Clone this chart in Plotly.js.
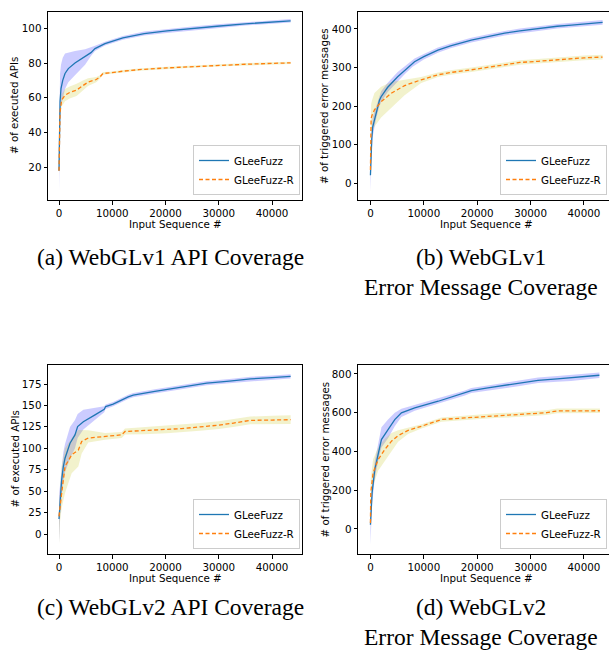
<!DOCTYPE html>
<html><head><meta charset="utf-8">
<script src="https://cdn.plot.ly/plotly-3.0.1.min.js"></script>
<style>html,body{margin:0;padding:0;background:#fff}#chart{width:609px;height:651px}</style>
</head><body><div id="chart"></div>
<script>
const seriesNames = ['GLeeFuzz', 'GLeeFuzz-R'];
const captions = ['(a) WebGLv1 API Coverage', '(b) WebGLv1', 'Error Message Coverage', '(c) WebGLv2 API Coverage', '(d) WebGLv2', 'Error Message Coverage'];
const xTitle = 'Input Sequence #';
const yTitles = ['# of executed APIs', '# of triggered error messages', '# of executed APIs', '# of triggered error messages'];

// (a) WebGLv1 API coverage
const aX_G = [0, 100, 200, 375, 700, 1130, 1750, 3000, 4900, 6000, 6760, 8640, 12000, 16000, 20280, 25000, 29670, 35000, 40000, 43500];
const aY_G = [18, 45, 58, 65.3, 70, 74, 76.8, 80, 83.5, 86, 88.3, 91.2, 94.5, 97, 98.5, 100, 101.2, 102.6, 103.7, 104.3];
const aHi_G = [30, 62, 74, 79, 83, 85.5, 86, 87, 88, 89, 90, 92.3, 95.6, 98.1, 99.7, 101.1, 102.3, 103.6, 104.7, 105.3];
const aLo_G = [6, 30, 46, 55, 60, 65, 69, 73, 79, 84, 87, 90.1, 93.4, 95.9, 97.3, 98.9, 100.1, 101.6, 102.7, 103.3];
const aX_R = [0, 100, 200, 500, 1130, 2000, 3300, 4500, 5450, 7000, 7700, 8260, 9580, 12000, 15000, 20280, 25000, 29670, 35000, 40000, 43500];
const aY_R = [18, 42, 52, 58.6, 61.5, 63, 64.4, 67, 69, 70.5, 72, 74, 74.3, 75.3, 76.2, 77.2, 78, 78.7, 79.3, 79.8, 80.1];
const aHi_R = [22, 48, 56, 62, 65, 66.5, 68, 70, 71.2, 72, 73, 74.8, 75, 76, 76.9, 77.9, 78.7, 79.4, 80, 80.5, 80.8];
const aLo_R = [14, 36, 48, 55, 58, 59.5, 61, 64, 66.8, 69, 71, 73.2, 73.6, 74.6, 75.5, 76.5, 77.3, 78, 78.6, 79.1, 79.4];

// (b) WebGLv1 error message coverage
const bX_G = [0, 100, 250, 430, 750, 1070, 1690, 2000, 3200, 5100, 6500, 7900, 8260, 10000, 12640, 15000, 18900, 22000, 25160, 28000, 31420, 35000, 37700, 40000, 43500];
const bY_G = [20, 70, 115, 146, 165, 185, 215, 224, 248, 276, 294, 311, 315, 328, 345, 356, 371, 380, 389, 395, 401, 407, 410, 413, 417];
const bHi_G = [62, 110, 145, 171, 185, 203, 230, 238, 260, 288, 304, 320, 323, 335, 352, 362, 377, 386, 395, 401, 407, 413, 416, 419, 423];
const bLo_G = [-22, 30, 85, 121, 145, 167, 200, 210, 236, 264, 284, 302, 307, 321, 338, 350, 365, 374, 383, 389, 395, 401, 404, 407, 411];
const bX_R = [0, 50, 130, 300, 750, 2000, 3880, 6400, 9500, 12640, 15000, 18900, 22000, 25160, 28000, 31420, 35000, 37700, 40000, 43500];
const bY_R = [34, 120, 168, 176, 190, 211, 233, 253, 268, 281, 287, 294, 300, 307, 313, 316, 320, 323, 325, 327];
const bHi_R = [50, 160, 205, 215, 234, 250, 262, 268, 275, 287, 293, 300, 306, 313, 319, 322, 326, 329, 331, 333];
const bLo_R = [18, 80, 130, 138, 146, 170, 195, 228, 260, 275, 281, 288, 294, 301, 307, 310, 314, 317, 319, 321];

// (c) WebGLv2 API coverage
const cX_G = [0, 200, 500, 800, 1130, 2070, 3000, 3500, 4570, 6760, 8500, 8760, 10170, 13000, 13940, 18000, 20220, 24000, 27750, 32000, 36000, 40000, 43500];
const cY_G = [17.5, 40, 63, 78, 88.5, 106, 115.7, 125.4, 131, 139, 145.6, 148.7, 151.5, 160, 162, 166.5, 168.5, 172.5, 176, 178.5, 181, 182.5, 184];
const cHi_G = [45, 60, 80, 95, 105, 125, 133, 140, 145, 147, 149, 151, 154, 162.5, 164.5, 169, 171, 175, 178.5, 181, 183.5, 185, 186.5];
const cLo_G = [-10.5, 20, 45, 60, 72, 88, 100, 112, 122, 133, 142, 146, 149, 157.5, 159.5, 164, 166, 170, 173.5, 176, 178.5, 180, 181.5];
const cX_R = [0, 200, 500, 1130, 2380, 3630, 4260, 5500, 8640, 11780, 12400, 16000, 20220, 23000, 26500, 30000, 32770, 35900, 40000, 43500];
const cY_R = [20.6, 35, 47.8, 78.8, 92.4, 98, 108, 112, 113.8, 115.7, 119.6, 120.5, 121.8, 123, 125, 127, 129.5, 132.6, 133, 133.4];
const cHi_R = [35, 60, 80, 100, 112, 121.5, 121.5, 121, 118, 119, 123, 124.5, 126, 127.5, 129.5, 131.5, 134, 137, 138, 138.5];
const cLo_R = [-12, 15, 30, 48, 71, 78.8, 94, 106.8, 110, 112, 116, 116.5, 117.5, 118.5, 120.5, 122.5, 125, 128, 128, 128.3];

// (d) WebGLv2 error message coverage
const dX_G = [0, 100, 310, 810, 1440, 2060, 3300, 4560, 5800, 8300, 12700, 17700, 18900, 22000, 25150, 28000, 31400, 35000, 37600, 40000, 42900];
const dY_G = [22, 100, 186, 306, 392, 461, 513, 564, 599, 625, 659, 702, 714, 728, 740, 752, 767, 774, 779, 784, 793];
const dHi_G = [120, 170, 240, 350, 440, 525, 565, 600, 620, 640, 672, 715, 727, 741, 754, 766, 781, 789, 794, 799, 807];
const dLo_G = [-81, 30, 130, 260, 350, 420, 468, 530, 578, 610, 646, 689, 701, 715, 726, 738, 753, 759, 764, 769, 779];
const dX_R = [0, 60, 500, 1440, 2690, 3940, 5190, 7060, 9560, 13300, 17700, 20000, 24000, 26500, 30000, 33000, 35000, 38000, 43000];
const dY_R = [31, 186, 289, 358, 410, 453, 482, 509, 530, 565, 573, 577, 586, 588, 594, 600, 609, 609, 610];
const dHi_R = [80, 260, 360, 420, 465, 495, 510, 522, 540, 575, 585, 589, 598, 600, 606, 612, 621, 621, 622];
const dLo_R = [-20, 120, 220, 300, 350, 400, 450, 490, 518, 553, 561, 565, 574, 576, 582, 588, 597, 597, 598];

const yTickSteps = [20, 100, 25, 200];

const W = 609, H = 651;
const fx = p => p / W;
const fy = p => 1 - p / H;
const FONT = 'DejaVu Sans';
const FS = 10.3;
const BLUE = '#1f77b4', ORANGE = '#ff7f0e';
const BAND_B = 'rgba(0,0,255,0.2)', BAND_Y = 'rgba(191,191,0,0.2)';

const panels = [
  {G: [aX_G, aY_G, aHi_G, aLo_G], R: [aX_R, aY_R, aHi_R, aLo_R]},
  {G: [bX_G, bY_G, bHi_G, bLo_G], R: [bX_R, bY_R, bHi_R, bLo_R]},
  {G: [cX_G, cY_G, cHi_G, cLo_G], R: [cX_R, cY_R, cHi_R, cLo_R]},
  {G: [dX_G, dY_G, dHi_G, dLo_G], R: [dX_R, dY_R, dHi_R, dLo_R]}
];
// pixel geometry of each panel
const geo = [
  {l: 48, r: 302, t: 12, b: 200, xr: [-2066, 45634], yr: [1.1, 109.4], full: true},
  {l: 358, r: 609, t: 12, b: 200, xr: [-2330, 44700], yr: [-44, 444], full: false},
  {l: 48, r: 302, t: 365, b: 554, xr: [-2066, 45634], yr: [-23.3, 197.2], full: true},
  {l: 358, r: 609, t: 365, b: 554, xr: [-2330, 44700], yr: [-129, 846], full: false}
];

const traces = [];
const layout = {
  width: W, height: H,
  margin: {l: 0, r: 0, t: 0, b: 0},
  paper_bgcolor: '#fff', plot_bgcolor: '#fff',
  font: {family: FONT, size: FS, color: '#000'},
  annotations: [], shapes: []
};

panels.forEach((p, i) => {
  const n = i + 1;
  const xa = n === 1 ? 'x' : 'x' + n;
  const ya = n === 1 ? 'y' : 'y' + n;
  const lg = n === 1 ? 'legend' : 'legend' + n;
  const g = geo[i];
  const band = (s, col) => ({
    type: 'scatter', mode: 'lines', xaxis: xa, yaxis: ya,
    x: s[0].concat(s[0].slice().reverse()),
    y: s[2].concat(s[3].slice().reverse()),
    fill: 'toself', fillcolor: col, line: {width: 0, color: 'rgba(0,0,0,0)'},
    hoverinfo: 'skip', showlegend: false
  });
  traces.push(band(p.G, BAND_B));
  traces.push(band(p.R, BAND_Y));
  traces.push({type: 'scatter', mode: 'lines', xaxis: xa, yaxis: ya, legend: lg,
    x: p.G[0], y: p.G[1], name: seriesNames[0], line: {color: BLUE, width: 1.3}});
  traces.push({type: 'scatter', mode: 'lines', xaxis: xa, yaxis: ya, legend: lg,
    x: p.R[0], y: p.R[1], name: seriesNames[1], line: {color: ORANGE, width: 1.3, dash: '4px,2.5px'}});

  const axCommon = {showgrid: false, zeroline: false, showline: true, linecolor: '#000', linewidth: 1,
    ticks: 'outside', ticklen: 3.5, tickwidth: 1, tickcolor: '#000',
    tickfont: {family: FONT, size: FS, color: '#000'}};
  layout[n === 1 ? 'xaxis' : 'xaxis' + n] = Object.assign({}, axCommon, {
    domain: [fx(g.l), fx(g.r)], range: g.xr, anchor: ya, tick0: 0, dtick: 10000,
    tickformat: 'd', mirror: true
  });
  layout[n === 1 ? 'yaxis' : 'yaxis' + n] = Object.assign({}, axCommon, {
    domain: [fy(g.b), fy(g.t)], range: g.yr, anchor: xa, tick0: 0, dtick: yTickSteps[i],
    tickformat: 'd', mirror: g.full
  });
  const legR = g.full ? 300 : 607;
  layout[lg] = {
    x: fx(legR), xanchor: 'right', y: fy(g.b - 5), yanchor: 'bottom',
    bgcolor: 'rgba(255,255,255,0.8)', bordercolor: '#ccc', borderwidth: 1,
    font: {family: FONT, size: FS, color: '#000'}, itemwidth: 30, tracegroupgap: 0
  };
  // axis titles
  const cxp = (g.l + (g.full ? g.r : 614)) / 2;
  layout.annotations.push({xref: 'paper', yref: 'paper', x: fx(cxp), y: fy(g.b + 24),
    text: xTitle, showarrow: false, font: {family: FONT, size: FS, color: '#000'}, xanchor: 'center', yanchor: 'middle'});
  layout.annotations.push({xref: 'paper', yref: 'paper', x: fx(g.l - 34), y: fy((g.t + g.b) / 2),
    text: yTitles[i], textangle: -90, showarrow: false, font: {family: FONT, size: FS, color: '#000'}, xanchor: 'center', yanchor: 'middle'});
});

// captions
const capFont = {family: 'Liberation Serif, Times New Roman, serif', size: 23.5, color: '#000'};
const capPos = [[170, 257], [481, 257], [481, 287], [170, 607], [481, 607], [481, 637]];
captions.forEach((c, k) => {
  layout.annotations.push({xref: 'paper', yref: 'paper', x: fx(capPos[k][0]), y: fy(capPos[k][1]),
    text: c, showarrow: false, font: capFont, xanchor: 'center', yanchor: 'middle'});
});

Plotly.newPlot('chart', traces, layout, {staticPlot: true, displayModeBar: false});
</script>
</body></html>
